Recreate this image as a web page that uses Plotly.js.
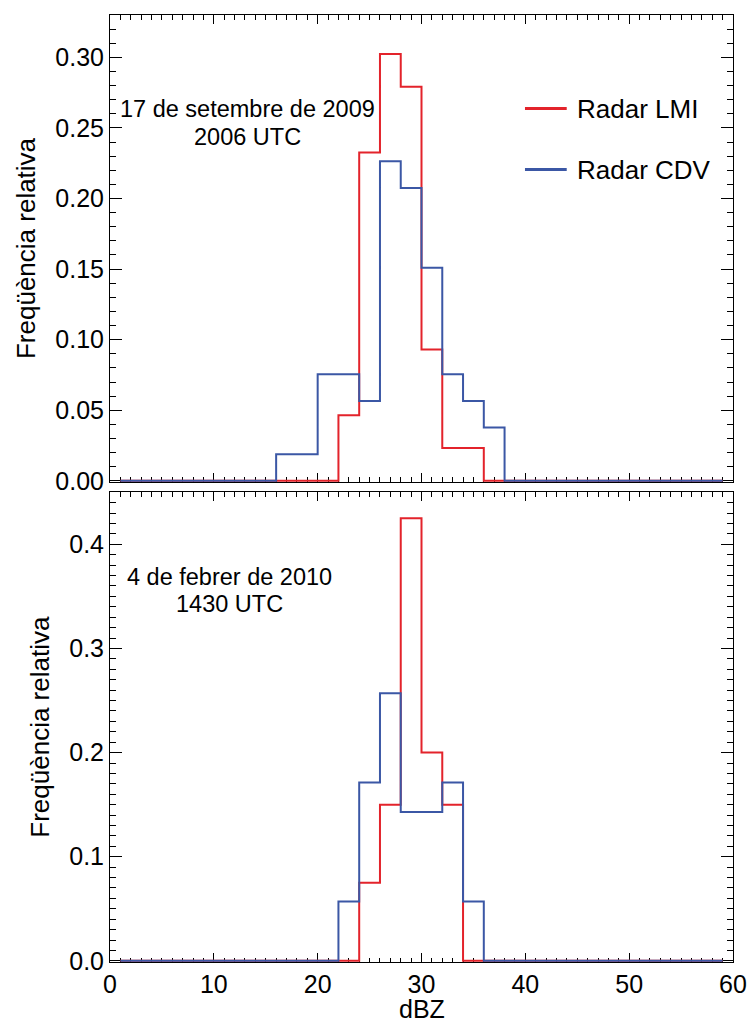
<!DOCTYPE html>
<html>
<head>
<meta charset="utf-8">
<script src="https://cdn.plot.ly/plotly-3.0.1.min.js"></script>
<style>
  html, body { margin: 0; padding: 0; background: #ffffff; }
  #chart { width: 748px; height: 1022px; }
</style>
</head>
<body>
<div id="chart"></div>
<script>
// Bin centres (dBZ), 2 dBZ wide bins from 0 to 60
var dbz = [1, 3, 5, 7, 9, 11, 13, 15, 17, 19, 21, 23, 25, 27, 29,
           31, 33, 35, 37, 39, 41, 43, 45, 47, 49, 51, 53, 55, 57, 59];

// 17 de setembre de 2009, 2006 UTC
var lmi2009 = [0, 0, 0, 0, 0, 0, 0, 0, 0, 0, 0, 0.0465, 0.2326, 0.3023, 0.2791,
               0.0930, 0.0233, 0.0233, 0, 0, 0, 0, 0, 0, 0, 0, 0, 0, 0, 0];
var cdv2009 = [0, 0, 0, 0, 0, 0, 0, 0, 0.0189, 0.0189, 0.0755, 0.0755, 0.0566, 0.2264, 0.2075,
               0.1509, 0.0755, 0.0566, 0.0377, 0, 0, 0, 0, 0, 0, 0, 0, 0, 0, 0];

// 4 de febrer de 2010, 1430 UTC
var lmi2010 = [0, 0, 0, 0, 0, 0, 0, 0, 0, 0, 0, 0, 0.075, 0.15, 0.425,
               0.2, 0.15, 0, 0, 0, 0, 0, 0, 0, 0, 0, 0, 0, 0, 0];
var cdv2010 = [0, 0, 0, 0, 0, 0, 0, 0, 0, 0, 0, 0.0571, 0.1714, 0.2571, 0.1429,
               0.1429, 0.1714, 0.0571, 0, 0, 0, 0, 0, 0, 0, 0, 0, 0, 0, 0];

var seriesNames = ['Radar LMI', 'Radar CDV'];
var colors = ['#e3232b', '#3b57a5'];
var xTickVals = [0, 10, 20, 30, 40, 50, 60];
var yTitle = 'Freqüència relativa';
var xTitle = 'dBZ';
var dateLabels = [['17 de setembre de 2009', '2006 UTC'], ['4 de febrer de 2010', '1430 UTC']];

var FONT = '"Liberation Sans", Arial, Helvetica, sans-serif';
var FS = 25;

function stepTrace(y, i, xa, ya) {
  return {
    x: dbz, y: y, xaxis: xa, yaxis: ya,
    type: 'scatter', mode: 'lines', name: seriesNames[i],
    line: { color: colors[i], width: 2, shape: 'hvh' },
    showlegend: false, hoverinfo: 'x+y'
  };
}

var data = [
  stepTrace(lmi2009, 0, 'x', 'y'),
  stepTrace(cdv2009, 1, 'x', 'y'),
  stepTrace(lmi2010, 0, 'x2', 'y2'),
  stepTrace(cdv2010, 1, 'x2', 'y2')
];

function xAxis(anchor, labels) {
  return {
    anchor: anchor, domain: [0, 1], range: [0, 60],
    tickmode: 'array', tickvals: xTickVals,
    showticklabels: labels,
    ticks: 'inside', ticklen: 9, tickwidth: 1, tickcolor: '#000',
    minor: { dtick: 1, tick0: 0, ticks: 'inside', ticklen: 4.5, tickwidth: 1, tickcolor: '#000' },
    showline: true, linecolor: '#000', linewidth: 1, mirror: 'allticks',
    showgrid: false, zeroline: false, layer: 'below traces',
    tickfont: { family: FONT, size: FS, color: '#000' }
  };
}

function yAxis(anchor, dom, rng, dt, fmt) {
  return {
    anchor: anchor, domain: dom, range: rng,
    tick0: 0, dtick: dt, tickformat: fmt,
    ticks: 'inside', ticklen: 12, tickwidth: 1, tickcolor: '#000',
    minor: { dtick: 0.01, ticks: 'inside', ticklen: 6, tickwidth: 1, tickcolor: '#000' },
    showline: true, linecolor: '#000', linewidth: 1, mirror: 'allticks',
    showgrid: false, zeroline: false, layer: 'below traces',
    tickfont: { family: FONT, size: FS, color: '#000' },
    title: { text: yTitle, font: { family: FONT, size: 26, color: '#000' }, standoff: 12 }
  };
}

var annotations = [];
function addText(txt, x, y, anchor, size, vanchor) {
  annotations.push({
    xref: 'paper', yref: 'paper', x: x, y: y, text: txt, showarrow: false,
    xanchor: anchor, yanchor: vanchor || 'middle',
    font: { family: FONT, size: size, color: '#000' }
  });
}
addText(dateLabels[0][0], 0.2208, 0.9004, 'center', 23.5);
addText(dateLabels[0][1], 0.2208, 0.8714, 'center', 23.5);
addText(dateLabels[1][0], 0.1912, 0.4062, 'center', 23.5);
addText(dateLabels[1][1], 0.1912, 0.3777, 'center', 23.5);

// x-axis title sits at the lower page edge, below the tick labels
addText(xTitle, 0.5, -0.0666, 'center', FS, 'bottom');

// Legend keys
var shapes = [];
var legendY = [0.9012, 0.8368];
for (var i = 0; i < seriesNames.length; i++) {
  shapes.push({
    type: 'line', xref: 'paper', yref: 'paper',
    x0: 0.6661, x1: 0.7331, y0: legendY[i], y1: legendY[i],
    line: { color: colors[i], width: 3 }
  });
  addText(seriesNames[i], 0.7460, legendY[i], 'left', 26);
}

var layout = {
  width: 748, height: 1022,
  margin: { l: 110, r: 15, t: 15, b: 60, pad: 0 },
  paper_bgcolor: '#ffffff', plot_bgcolor: '#ffffff',
  showlegend: false,
  font: { family: FONT, size: FS, color: '#000' },
  xaxis: xAxis('y', false),
  yaxis: yAxis('x', [0.5069, 1], [-0.0008, 0.33], 0.05, '.2f'),
  xaxis2: xAxis('y2', true),
  yaxis2: yAxis('x2', [0, 0.4960], [-0.0011, 0.45], 0.1, '.1f'),
  annotations: annotations,
  shapes: shapes
};

Plotly.newPlot('chart', data, layout, { displayModeBar: false, staticPlot: true });
</script>
</body>
</html>
